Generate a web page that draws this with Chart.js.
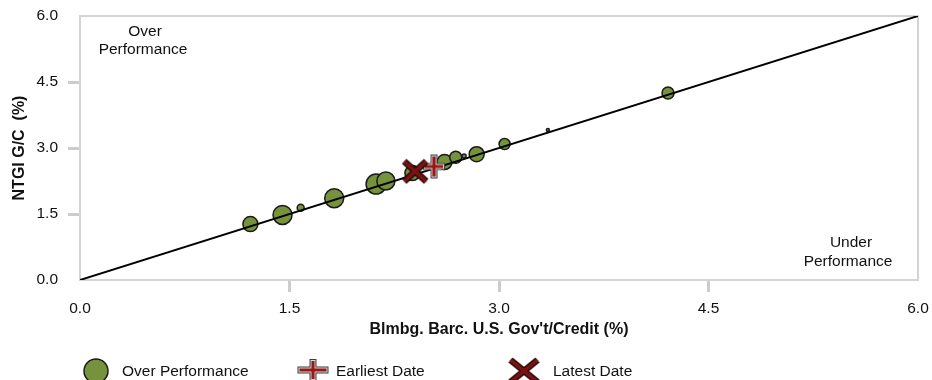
<!DOCTYPE html>
<html><head><meta charset="utf-8">
<script src="https://cdn.jsdelivr.net/npm/chart.js@4/dist/chart.umd.min.js"></script>
<style>html,body{margin:0;padding:0;background:#fff}#wrap{width:932px;height:380px}</style>
</head><body><div id="wrap"><canvas id="c" width="932" height="380"></canvas></div>
<script>
// ---- data ----
const perfX    = [1.22, 1.45, 1.58, 1.82, 2.12, 2.19, 2.38, 2.61, 2.69, 2.75, 2.84, 3.04, 3.35, 4.21];
const perfY    = [1.27, 1.48, 1.64, 1.86, 2.18, 2.25, 2.43, 2.68, 2.79, 2.82, 2.86, 3.09, 3.41, 4.25];
const perfSize = [7.5, 9.5, 3.5, 9.5, 10, 9, 7.5, 7.5, 6, 2, 7.5, 5.5, 1.5, 6];
const earliestX = [2.535], earliestY = [2.58];
const latestX = [2.40], latestY = [2.47];
const refLineX = [0, 6], refLineY = [0, 6];
const tickValues = [0, 1.5, 3.0, 4.5, 6.0];
const xTitle = "Blmbg. Barc. U.S. Gov't/Credit (%)";
const yTitle = "NTGI G/C  (%)";
const legendLabels = ["Over Performance", "Earliest Date", "Latest Date"];

const FONT = "'Liberation Sans', Arial, sans-serif";
const GREEN = '#76933c';
const AXIS = '#d2d4d6';
const TEXT = '#111';

function makePlus(w, h) {
  const c = document.createElement('canvas');
  c.width = w + 10; c.height = h + 10;
  const g = c.getContext('2d');
  const cx = c.width / 2, cy = c.height / 2;
  const layers = [[7, '#3c3c3c'], [5, '#d8d8d8'], [3.2, '#9c1616']];
  layers.forEach(([lw, col], i) => {
    const e = i * 1;
    g.strokeStyle = col; g.lineWidth = lw; g.lineCap = 'butt';
    g.beginPath();
    g.moveTo(cx - w / 2 + e, cy); g.lineTo(cx + w / 2 - e, cy);
    g.moveTo(cx, cy - h / 2 + e); g.lineTo(cx, cy + h / 2 - e);
    g.stroke();
  });
  return c;
}
function makeX(w, h) {
  const c = document.createElement('canvas');
  c.width = w + 10; c.height = h + 10;
  const g = c.getContext('2d');
  const cx = c.width / 2, cy = c.height / 2;
  const layers = [[6.5, '#1a0505'], [4, '#7a1212']];
  layers.forEach(([lw, col]) => {
    g.strokeStyle = col; g.lineWidth = lw; g.lineCap = 'butt';
    g.beginPath();
    g.moveTo(cx - w / 2, cy - h / 2); g.lineTo(cx + w / 2, cy + h / 2);
    g.moveTo(cx + w / 2, cy - h / 2); g.lineTo(cx - w / 2, cy + h / 2);
    g.stroke();
  });
  return c;
}
const plusImg = makePlus(22, 24);
const xImg = makeX(22, 20);
const plusLegend = makePlus(31, 22);
const xLegend = makeX(27, 22);

const toPts = (xs, ys) => xs.map((x, i) => ({x: x, y: ys[i]}));

const frame = {
  id: 'frame',
  beforeDatasetsDraw(chart) {
    const {ctx, chartArea: a} = chart;
    ctx.save();
    ctx.strokeStyle = AXIS; ctx.lineWidth = 2;
    ctx.beginPath();
    ctx.moveTo(a.left, a.top); ctx.lineTo(a.right, a.top); ctx.lineTo(a.right, a.bottom);
    ctx.stroke();
    ctx.restore();
  },
  afterDraw(chart) {
    const {ctx, chartArea: a} = chart;
    ctx.save();
    ctx.fillStyle = TEXT;
    ctx.font = '15.5px ' + FONT;
    ctx.textAlign = 'center'; ctx.textBaseline = 'middle';
    ctx.fillText('Over', a.left + 65, a.top + 16);
    ctx.fillText('Performance', a.left + 63, a.top + 34);
    ctx.fillText('Under', a.right - 67, a.bottom - 37);
    ctx.fillText('Performance', a.right - 70, a.bottom - 18);
    // legend
    const ly = 371;
    ctx.textAlign = 'left';
    ctx.beginPath();
    ctx.arc(96, ly, 12, 0, Math.PI * 2);
    ctx.fillStyle = GREEN; ctx.fill();
    ctx.lineWidth = 1.5; ctx.strokeStyle = '#1a1a1a'; ctx.stroke();
    ctx.drawImage(plusLegend, 313 - plusLegend.width / 2, 370 - plusLegend.height / 2);
    ctx.drawImage(xLegend, 524 - xLegend.width / 2, 371 - xLegend.height / 2);
    ctx.fillStyle = TEXT;
    ctx.fillText(legendLabels[0], 122, ly + 1);
    ctx.fillText(legendLabels[1], 336, ly + 1);
    ctx.fillText(legendLabels[2], 553, ly + 1);
    ctx.restore();
  }
};

const tickCol = (c) => (c.tick && (c.tick.value === 0 || c.tick.value === 6)) ? 'rgba(0,0,0,0)' : '#c9cdd2';

new Chart(document.getElementById('c'), {
  type: 'bubble',
  data: {
    datasets: [
      {
        type: 'scatter',
        label: 'ref',
        data: toPts(refLineX, refLineY),
        showLine: true,
        borderColor: '#000',
        borderWidth: 2,
        pointRadius: 0,
        order: 1
      },
      {
        type: 'bubble',
        label: legendLabels[0],
        data: perfX.map((x, i) => ({x: x, y: perfY[i], r: perfSize[i]})),
        backgroundColor: GREEN,
        borderColor: '#1a1a1a',
        borderWidth: 1.5,
        order: 2
      },
      {
        type: 'scatter',
        label: legendLabels[1],
        data: toPts(earliestX, earliestY),
        pointStyle: plusImg,
        pointRadius: 12,
        order: 0
      },
      {
        type: 'scatter',
        label: legendLabels[2],
        data: toPts(latestX, latestY),
        pointStyle: xImg,
        pointRadius: 12,
        order: -1
      }
    ]
  },
  options: {
    responsive: false,
    animation: false,
    layout: {padding: {left: 0, right: 14, top: 16, bottom: 40}},
    plugins: {legend: {display: false}, tooltip: {enabled: false}},
    scales: {
      x: {
        type: 'linear', min: 0, max: 6,
        afterBuildTicks: (s) => { s.ticks = tickValues.map(v => ({value: v})); },
        afterFit: (s) => { s.height = 60; s.paddingLeft = 0; s.paddingRight = 0; },
        ticks: {
          callback: (v) => Number(v).toFixed(1),
          color: TEXT, font: {family: FONT, size: 15.5}, padding: 7, maxRotation: 0
        },
        grid: {drawOnChartArea: false, drawTicks: true, tickLength: 12, tickWidth: 3, tickColor: tickCol},
        border: {display: true, color: AXIS, width: 2},
        title: {display: true, text: xTitle, color: TEXT, font: {family: FONT, size: 16, weight: 'bold'}, padding: {top: 0, bottom: 1}}
      },
      y: {
        type: 'linear', min: 0, max: 6,
        afterBuildTicks: (s) => { s.ticks = tickValues.map(v => ({value: v})); },
        afterFit: (s) => { s.width = 80; s.paddingTop = 0; s.paddingBottom = 0; },
        ticks: {
          callback: (v) => Number(v).toFixed(1),
          color: TEXT, font: {family: FONT, size: 15.5}, padding: 10
        },
        grid: {drawOnChartArea: false, drawTicks: true, tickLength: 12, tickWidth: 3, tickColor: tickCol},
        border: {display: true, color: AXIS, width: 2},
        title: {display: true, text: yTitle, color: TEXT, font: {family: FONT, size: 16, weight: 'bold'}, padding: {top: 10, bottom: 0}}
      }
    }
  },
  plugins: [frame]
});
</script>
</body></html>
